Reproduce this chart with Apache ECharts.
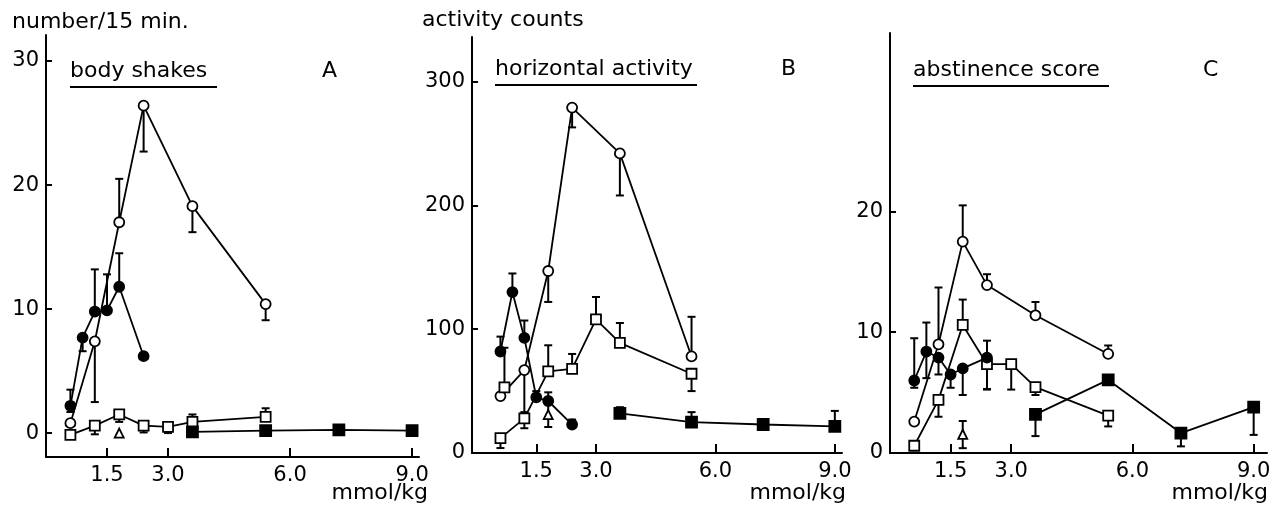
<!DOCTYPE html>
<html>
<head>
<meta charset="utf-8">
<script src="https://cdn.jsdelivr.net/npm/echarts@6/dist/echarts.min.js"></script>
<style>
  html, body { margin: 0; padding: 0; background: #fff; }
  #chart { width: 1271px; height: 507px; }
</style>
</head>
<body>
<div id="chart"></div>
<script>
// each point: [dose mmol/kg, mean, error low end, error high end]

// A - body shakes
let shakesOpenCircle = [[0.6, 0.8, 0.8, 0.8], [1.2, 7.4, 2.5, 7.4], [1.8, 17.0, 17.0, 20.5], [2.4, 26.4, 22.7, 26.4], [3.6, 18.3, 16.2, 18.3], [5.4, 10.4, 9.1, 10.4]];
let shakesFilledCircle = [[0.6, 2.2, 1.7, 3.5], [0.9, 7.7, 6.6, 7.7], [1.2, 9.8, 9.8, 13.2], [1.5, 9.9, 9.9, 12.8], [1.8, 11.8, 11.8, 14.5], [2.4, 6.2, 6.2, 6.2]];
let shakesOpenSquare = [[0.6, -0.15, -0.15, -0.15], [1.2, 0.6, -0.1, 0.6], [1.8, 1.5, 0.9, 1.5], [2.4, 0.6, 0.05, 0.6], [3.0, 0.5, 0.0, 0.5], [3.6, 0.9, 0.9, 1.5], [5.4, 1.3, 1.3, 2.0]];
let shakesFilledSquare = [[3.6, 0.1, 0.1, 0.1], [5.4, 0.2, 0.2, 0.2], [7.2, 0.25, 0.25, 0.25], [9.0, 0.2, 0.2, 0.2]];
let shakesTriangle = [[1.8, 0.0, 0.0, 0.0]];

// B - horizontal activity
let activityOpenCircle = [[0.6, 46, 46, 46], [1.2, 67, 33, 67], [1.8, 147, 122, 147], [2.4, 279, 263, 279], [3.6, 242, 208, 242], [5.4, 78, 78, 110]];
let activityFilledCircle = [[0.6, 82, 82, 94], [0.9, 130, 130, 145], [1.2, 93, 93, 107], [1.5, 45, 45, 50], [1.8, 42, 42, 49], [2.4, 23, 23, 27]];
let activityOpenSquare = [[0.6, 12, 4, 12], [1.2, 28, 20, 28], [1.8, 66, 66, 87], [2.4, 68, 68, 80], [3.0, 108, 108, 126], [3.6, 89, 89, 105], [5.4, 64, 50, 64]];
let activityExtraSquare = [[0.7, 53, 53, 85]];
let activityFilledSquare = [[3.6, 32, 32, 37], [5.4, 25, 25, 33], [7.2, 23, 23, 23], [9.0, 21.5, 21.5, 34]];
let activityTriangle = [[1.8, 31, 21, 43]];

// C - abstinence score
let scoreOpenCircle = [[0.6, 2.6, 2.6, 2.6], [1.2, 9.0, 9.0, 13.7], [1.8, 17.5, 17.5, 20.5], [2.4, 13.9, 13.9, 14.8], [3.6, 11.4, 11.4, 12.5], [5.4, 8.2, 8.2, 8.9]];
let scoreFilledCircle = [[0.6, 6.0, 5.4, 9.5], [0.9, 8.4, 6.2, 10.8], [1.2, 7.9, 6.5, 7.9], [1.5, 6.5, 5.4, 6.5], [1.8, 7.0, 4.8, 7.0], [2.4, 7.9, 5.3, 9.3]];
let scoreOpenSquare = [[0.6, 0.6, 0.6, 0.6], [1.2, 4.4, 3.0, 4.4], [1.8, 10.6, 10.6, 12.7], [2.4, 7.35, 5.25, 7.35], [3.0, 7.35, 5.25, 7.35], [3.6, 5.45, 4.8, 5.45], [5.4, 3.1, 2.2, 3.1]];
let scoreFilledSquare = [[3.6, 3.2, 1.4, 3.2], [5.4, 6.05, 6.05, 6.05], [7.2, 1.65, 0.55, 1.65], [9.0, 3.8, 1.5, 3.8]];
let scoreTriangle = [[1.8, 1.55, 0.4, 2.65]];

let doseTicks = [1.5, 3.0, 6.0, 9.0];
let shakesTicks = [0, 10, 20, 30];
let activityTicks = [0, 100, 200, 300];
let scoreTicks = [0, 10, 20];

let FONT = 'DejaVu Sans';

//marker looks
let markers = {
    openCircle: { symbol: 'circle', size: 10, fill: '#fff' },
    filledCircle: { symbol: 'circle', size: 10, fill: '#000' },
    openSquare: { symbol: 'rect', size: 10, fill: '#fff' },
    filledSquare: { symbol: 'rect', size: 11, fill: '#000' },
    triangle: { symbol: 'triangle', size: 9, fill: '#fff' }
};

// panel frames
let panels = [
    { grid: { left: 46, top: 35, width: 373, height: 422 }, x: [0, 9.17], y: [-1.93, 32.1], yTicks: shakesTicks,
      sets: [[shakesOpenSquare, 'openSquare', true], [shakesFilledSquare, 'filledSquare', true], [shakesFilledCircle, 'filledCircle', true],
             [shakesOpenCircle, 'openCircle', true], [shakesTriangle, 'triangle', false]] },
    { grid: { left: 472, top: 37, width: 370, height: 416 }, x: [-0.115, 9.18], y: [0, 336], yTicks: activityTicks,
      sets: [[activityOpenSquare, 'openSquare', true], [activityFilledSquare, 'filledSquare', true], [activityFilledCircle, 'filledCircle', true],
             [activityOpenCircle, 'openCircle', true], [activityExtraSquare, 'openSquare', false], [activityTriangle, 'triangle', false]] },
    { grid: { left: 890, top: 33, width: 377, height: 420 }, x: [0, 9.33], y: [0, 34.77], yTicks: scoreTicks,
      sets: [[scoreOpenSquare, 'openSquare', true], [scoreFilledSquare, 'filledSquare', true], [scoreFilledCircle, 'filledCircle', true],
             [scoreOpenCircle, 'openCircle', true], [scoreTriangle, 'triangle', false]] }
];

//error bar: vertical stroke with caps at the ends away from the mean
function renderErr(params, api) {
    let x = api.value(0), m = api.value(1), lo = api.value(2), hi = api.value(3);
    let pLo = api.coord([x, lo]);
    let pHi = api.coord([x, hi]);
    let st = { stroke: '#000', lineWidth: 2 };
    let kids = [{ type: 'line', shape: { x1: pLo[0], y1: pLo[1], x2: pHi[0], y2: pHi[1] }, style: st }];
    if (lo !== m) kids.push({ type: 'line', shape: { x1: pLo[0] - 4, y1: pLo[1], x2: pLo[0] + 4, y2: pLo[1] }, style: st });
    if (hi !== m) kids.push({ type: 'line', shape: { x1: pHi[0] - 4, y1: pHi[1], x2: pHi[0] + 4, y2: pHi[1] }, style: st });
    return { type: 'group', children: kids };
}

let grids = [], xAxes = [], yAxes = [], series = [];
panels.forEach((p, i) => {
    grids.push(Object.assign({ outerBoundsMode: 'none', containLabel: false }, p.grid));
    xAxes.push({
        type: 'value', gridIndex: i, min: p.x[0], max: p.x[1],
        axisLine: { show: true, onZero: false, lineStyle: { color: '#000', width: 2 } },
        axisTick: { show: true, inside: true, length: 9, customValues: doseTicks, lineStyle: { color: '#000', width: 2 } },
        axisLabel: { show: true, customValues: doseTicks, formatter: (v) => v.toFixed(1), margin: 8,
                     color: '#000', fontFamily: FONT, fontSize: 21 },
        splitLine: { show: false }
    });
    yAxes.push({
        type: 'value', gridIndex: i, min: p.y[0], max: p.y[1],
        axisLine: { show: true, onZero: false, lineStyle: { color: '#000', width: 2 } },
        axisTick: { show: true, inside: true, length: 6, customValues: p.yTicks, lineStyle: { color: '#000', width: 2 } },
        axisLabel: { show: true, customValues: p.yTicks, margin: 7, color: '#000', fontFamily: FONT, fontSize: 21 },
        splitLine: { show: false }
    });
    p.sets.forEach((s) => {
        let mk = markers[s[1]];
        series.push({
            type: 'custom', xAxisIndex: i, yAxisIndex: i, z: 1, silent: true,
            renderItem: renderErr, encode: { x: 0, y: [1, 2, 3] }, data: s[0]
        });
        series.push({
            type: s[2] ? 'line' : 'scatter', xAxisIndex: i, yAxisIndex: i, z: 3, silent: true,
            symbol: mk.symbol, symbolSize: mk.size, showSymbol: true,
            lineStyle: { color: '#000', width: 1.8 },
            itemStyle: { color: mk.fill, borderColor: '#000', borderWidth: 1.8, opacity: 1 },
            data: s[0].map(d => [d[0], d[1]])
        });
    });
});

let txt = (text, pos, size) => Object.assign({
    text: text, padding: 0,
    textStyle: { color: '#000', fontFamily: FONT, fontSize: size || 22, fontWeight: 'normal' }
}, pos);

let chart = echarts.init(document.getElementById('chart'));
chart.setOption({
    animation: false,
    backgroundColor: '#fff',
    title: [
        txt('number/15 min.', { left: 12, top: 11 }),
        txt('activity counts', { left: 422, top: 9 }),
        txt('body shakes', { left: 70, top: 60 }),
        txt('A', { left: 322, top: 60 }),
        txt('horizontal activity', { left: 495, top: 58 }),
        txt('B', { left: 781, top: 58 }),
        txt('abstinence score', { left: 913, top: 59 }),
        txt('C', { left: 1203, top: 59 }),
        txt('mmol/kg', { right: 843, top: 482 }),
        txt('mmol/kg', { right: 425, top: 482 }),
        txt('mmol/kg', { right: 3, top: 482 })
    ],
    graphic: [
        { type: 'line', shape: { x1: 70, y1: 87, x2: 217, y2: 87 }, style: { stroke: '#000', lineWidth: 2 } },
        { type: 'line', shape: { x1: 495, y1: 85, x2: 697, y2: 85 }, style: { stroke: '#000', lineWidth: 2 } },
        { type: 'line', shape: { x1: 913, y1: 86, x2: 1109, y2: 86 }, style: { stroke: '#000', lineWidth: 2 } }
    ],
    grid: grids,
    xAxis: xAxes,
    yAxis: yAxes,
    series: series
});
</script>
</body>
</html>
